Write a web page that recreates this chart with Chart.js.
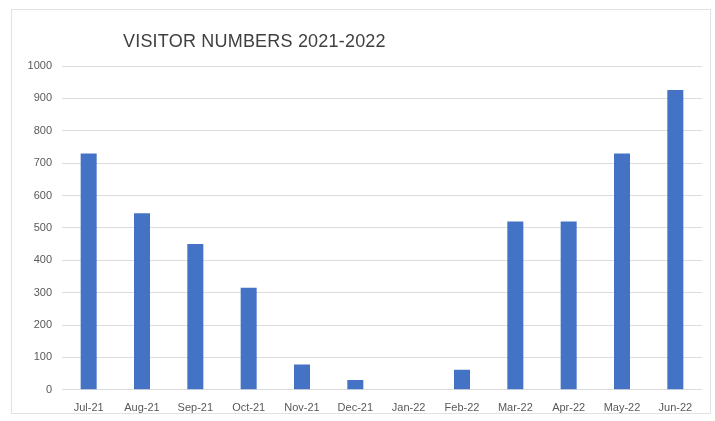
<!DOCTYPE html>
<html>
<head>
<meta charset="utf-8">
<script src="https://cdn.jsdelivr.net/npm/chart.js@4.4.1/dist/chart.umd.min.js"></script>
<style>
  html, body { margin: 0; padding: 0; background: #fff; }
  #wrap { position: relative; width: 715px; height: 421px; }
  #frame { position: absolute; left: 11px; top: 9px; width: 700px; height: 405px; border: 1px solid #e2e2e2; box-sizing: border-box; pointer-events: none; }
  #title { position: absolute; left: 123px; top: 31px; font: 18px "Liberation Sans", Arial, sans-serif; color: #404040; letter-spacing: 0.2px; }
</style>
</head>
<body>
<div id="wrap">
  <canvas id="visitorChart" width="715" height="421"></canvas>
  <div id="frame"></div>
  <div id="title">VISITOR NUMBERS 2021-2022</div>
</div>
<script>
// Monthly visitor counts
const months = ['Jul-21', 'Aug-21', 'Sep-21', 'Oct-21', 'Nov-21', 'Dec-21',
                'Jan-22', 'Feb-22', 'Mar-22', 'Apr-22', 'May-22', 'Jun-22'];
const visitors = [730, 545, 450, 315, 78, 30, 0, 62, 520, 520, 730, 926];
const yTicks = [0, 100, 200, 300, 400, 500, 600, 700, 800, 900, 1000];

const textColor = '#595959';
const gridColor = '#dcdcdc';

new Chart(document.getElementById('visitorChart'), {
    type: 'bar',
    data: {
        labels: months,
        datasets: [{
            label: 'Visitors',
            data: visitors,
            backgroundColor: '#4472C4',
            borderWidth: 0,
            barPercentage: 0.3,
            categoryPercentage: 1
        }]
    },
    options: {
        responsive: false,
        animation: false,
        layout: { padding: { left: 14, right: 13, top: 66, bottom: -6 } },
        scales: {
            x: {
                grid: { display: false, drawTicks: false },
                border: { display: false },
                ticks: { color: textColor, padding: 12, font: { family: 'Liberation Sans', size: 11 } }
            },
            y: {
                min: 0,
                max: 1000,
                afterBuildTicks: (axis) => { axis.ticks = yTicks.map(v => ({ value: v })); },
                afterFit: (axis) => { axis.width = 48; },
                grid: { color: gridColor, drawTicks: false },
                border: { display: false },
                ticks: {
                    color: textColor, padding: 10,
                    font: { family: 'Liberation Sans', size: 11 },
                    callback: (v) => String(v)
                }
            }
        },
        plugins: {
            legend: { display: false },
            tooltip: { enabled: false }
        }
    }
});
</script>
</body>
</html>
